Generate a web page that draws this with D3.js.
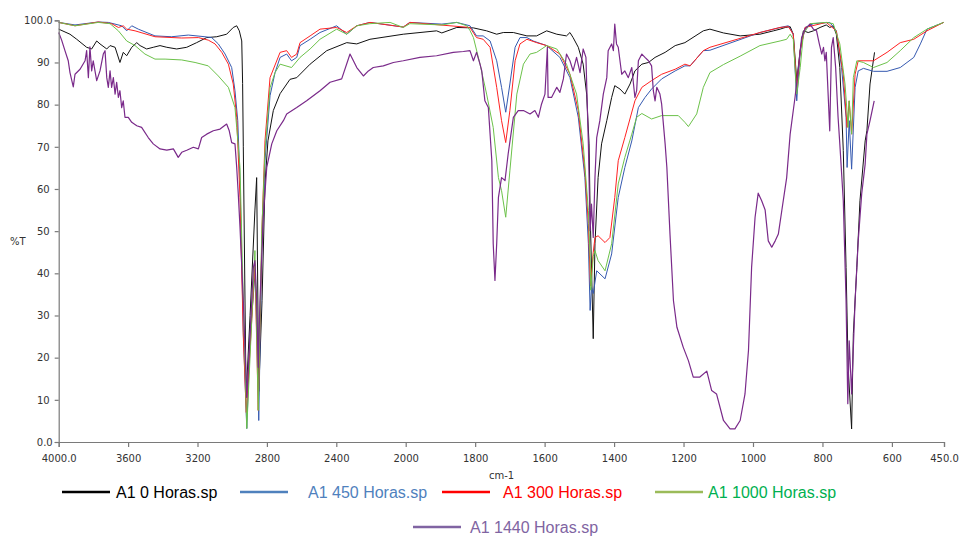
<!DOCTYPE html>
<html>
<head>
<meta charset="utf-8">
<script src="https://cdn.jsdelivr.net/npm/d3@7"></script>
<style>
  html, body { margin: 0; padding: 0; background: #fff; }
  svg { display: block; }
</style>
</head>
<body>
<svg id="chart" width="963" height="536"></svg>
<script>
// IR spectra, %T versus wavenumber (cm-1), samples A1 after ageing hours.
const seriesNames = ["A1 0 Horas.sp", "A1 450 Horas.sp", "A1 300 Horas.sp", "A1 1000 Horas.sp", "A1 1440 Horas.sp"];

const xTickValues = [4000, 3600, 3200, 2800, 2400, 2000, 1800, 1600, 1400, 1200, 1000, 800, 600, 450];
const xTickLabels = ["4000.0", "3600", "3200", "2800", "2400", "2000", "1800", "1600", "1400", "1200", "1000", "800", "600", "450.0"];
const yTickValues = [0, 10, 20, 30, 40, 50, 60, 70, 80, 90, 100];
const yTickLabels = ["0.0", "10", "20", "30", "40", "50", "60", "70", "80", "90", "100.0"];

// [wavenumber, %T]
const spec0h = [[4000,97.9],[3935,96.7],[3896,95.5],[3839,93.6],[3810,93.2],[3781,95.1],[3762,94.4],[3723,93.2],[3704,94.0],[3675,93.6],[3647,90.0],[3628,92.4],[3608,91.6],[3579,93.6],[3550,94.7],[3531,94.0],[3493,93.2],[3455,93.6],[3416,94.0],[3377,93.6],[3320,93.2],[3262,93.6],[3205,94.7],[3147,95.9],[3089,96.1],[3032,96.7],[2994,98.3],[2974,98.7],[2959,97.5],[2945,95.1],[2940,85],[2936,70],[2920,10.5],[2897,30],[2869,55],[2859,62.7],[2847,12],[2828,33.5],[2811,61.3],[2794,71.4],[2763,78.6],[2724,82.6],[2667,86.0],[2628,86.4],[2551,89.6],[2455,92.8],[2340,94.7],[2282,94.4],[2206,95.5],[2014,96.7],[1911,97.5],[1896,97.0],[1853,98.3],[1805,98.2],[1767,97.5],[1738,96.7],[1719,97.1],[1690,97.1],[1651,96.3],[1623,96.3],[1594,97.5],[1565,96.7],[1537,96.3],[1527,97.1],[1518,95.9],[1503,93.6],[1489,89.6],[1479,82.5],[1472,70.7],[1469,54.9],[1460,24.5],[1455,47.0],[1446,62.7],[1436,70.7],[1421,76.2],[1407,81.7],[1398,84.5],[1383,83.7],[1369,82.5],[1354,84.9],[1340,88.0],[1320,89.6],[1301,90.0],[1282,91.2],[1253,92.4],[1224,94.0],[1196,94.7],[1143,97.5],[1124,97.9],[1085,97.0],[1037,96.3],[980,96.7],[941,97.5],[922,97.9],[907,98.3],[893,98.5],[884,96.7],[874,85.7],[864,93],[855,97.5],[841,97.1],[826,97.5],[807,98.3],[789,98.9],[779,98.3],[769,98.7],[760,96.7],[750,88.8],[740,69.1],[732,41.4],[726,17.7],[716,3.1],[711,25.7],[701,41.4],[692,57.2],[677,71.4],[672,73.8],[663,84.9],[650,92.4]];

const spec450h = [[4000,99.5],[3906,98.9],[3772,99.6],[3714,99.5],[3637,98.7],[3608,97.5],[3579,98.7],[3541,97.9],[3445,96.3],[3349,96.1],[3253,96.5],[3157,96.1],[3118,95.9],[3080,94.4],[3041,92.0],[3003,88.8],[2984,83.3],[2968,76.2],[2955,62],[2936,26],[2916,3.2],[2897,25],[2867,40.6],[2852,20],[2847,5.1],[2830,45],[2811,66.7],[2782,82.1],[2753,87.6],[2724,91.2],[2686,92.0],[2658,90.4],[2628,91.2],[2609,94.0],[2551,95.5],[2494,97.1],[2398,98.7],[2340,96.7],[2282,98.7],[2206,99.5],[2014,98.4],[1988,99.5],[1896,99.1],[1853,99.5],[1815,98.7],[1796,96.3],[1777,96.3],[1757,95.1],[1738,90.4],[1724,84.1],[1712,78.2],[1700,84.9],[1685,93.6],[1671,95.9],[1651,95.9],[1633,95.1],[1594,94.0],[1556,91.2],[1527,86.4],[1503,77.0],[1484,62.7],[1474,47.0],[1469,31.2],[1465,36.7],[1460,35.2],[1450,40.6],[1426,38.7],[1407,44.6],[1388,58.0],[1369,65.1],[1349,71.4],[1330,79.3],[1311,81.7],[1292,83.7],[1263,86.1],[1224,88.0],[1196,89.2],[1181,89.2],[1143,92.8],[1124,92.9],[980,97.1],[922,98.3],[898,98.7],[884,96.7],[874,80.9],[864,92.8],[850,98.3],[826,99.2],[779,99.5],[760,97.5],[745,88.8],[732,77.0],[729,65.1],[723,76.2],[716,64.7],[706,84.1],[697,88.0],[682,88.6],[653,87.9],[614,87.9],[576,88.8],[537,91.2],[518,94.4],[499,97.9],[451,99.5]];

const spec300h = [[4000,99.5],[3906,98.7],[3772,99.6],[3695,99.2],[3656,98.3],[3628,98.7],[3608,97.9],[3560,97.5],[3445,96.1],[3291,95.8],[3195,95.9],[3138,95.3],[3099,94.4],[3060,92.4],[3022,89.6],[2994,84.9],[2974,77.0],[2955,58],[2936,25],[2919,7.0],[2897,22],[2869,42.3],[2850,7.5],[2828,51],[2811,71.4],[2782,86.4],[2724,92.4],[2686,92.8],[2658,91.2],[2628,92.0],[2609,94.7],[2551,96.3],[2494,97.9],[2398,98.3],[2340,97.1],[2282,98.7],[2206,99.5],[2014,98.4],[1988,99.5],[1815,98.3],[1796,95.9],[1777,95.5],[1757,93.6],[1738,84.1],[1724,76.2],[1712,71.0],[1700,78.6],[1685,90.4],[1671,94.4],[1651,95.5],[1623,94.7],[1594,94.0],[1556,92.0],[1527,87.2],[1503,78.6],[1484,64.3],[1474,51.8],[1468,37],[1460,45],[1455,48.5],[1446,48.9],[1426,47.3],[1412,48.5],[1398,58.0],[1388,66.7],[1369,72.2],[1340,80.9],[1320,84.1],[1292,85.7],[1263,87.2],[1224,88.4],[1196,89.6],[1181,89.2],[1143,92.8],[1124,93.6],[980,97.1],[922,98.3],[898,98.5],[884,96.7],[874,84.1],[864,92.8],[850,98.3],[789,99.5],[760,97.5],[740,87.2],[729,74.6],[723,80.9],[716,73.0],[706,87.2],[697,90.4],[653,90.4],[614,92.4],[576,94.7],[537,95.5],[499,97.5],[451,99.5]];

const spec1000h = [[4000,99.5],[3906,98.7],[3772,99.5],[3704,99.2],[3656,97.5],[3608,95.1],[3560,94.0],[3503,92.0],[3445,90.8],[3387,90.8],[3291,90.6],[3214,90.0],[3138,89.2],[3080,86.8],[3022,84.1],[2984,79.3],[2974,74.6],[2955,65.1],[2936,33.5],[2916,3.2],[2869,45.4],[2850,7.5],[2830,49.4],[2811,69.0],[2782,84.0],[2753,87.6],[2724,89.6],[2658,88.8],[2609,91.2],[2551,93.2],[2494,95.5],[2398,97.9],[2340,96.7],[2282,98.7],[2206,99.2],[2090,99.5],[2014,98.3],[1988,99.2],[1896,98.9],[1853,99.5],[1824,98.7],[1815,97.6],[1805,95.9],[1786,89.6],[1767,82.5],[1748,74.6],[1733,62.7],[1724,59.6],[1712,53.3],[1700,64.3],[1680,82.5],[1661,89.6],[1642,92.0],[1623,92.4],[1594,94.0],[1565,93.2],[1537,89.6],[1508,82.5],[1489,70.7],[1474,54.9],[1469,43.8],[1467,36],[1460,44],[1455,45.4],[1446,43],[1426,40.6],[1407,47.0],[1388,61.2],[1369,67.5],[1349,73.0],[1335,77.0],[1320,77.9],[1292,76.6],[1263,77.4],[1215,77.4],[1196,75.8],[1186,74.8],[1162,77.8],[1143,84.1],[1124,87.6],[1085,89.5],[1037,91.5],[980,94.0],[922,95.1],[903,95.5],[893,96.7],[884,95.5],[874,82.5],[864,88.8],[855,96.7],[836,99.2],[789,99.5],[769,99.2],[750,94.4],[735,84.9],[726,74.6],[723,80.9],[716,73.0],[711,86.4],[701,90.4],[682,90.0],[653,88.8],[614,90.0],[576,92.8],[537,95.9],[499,97.9],[451,99.5]];

const spec1440h = [[4000,97.1],[3983,95.3],[3964,92.8],[3945,90.4],[3935,87.6],[3916,84.2],[3906,87.2],[3877,88.4],[3848,90.4],[3839,92.8],[3829,86.4],[3820,93.7],[3810,88.0],[3801,90.4],[3781,85.7],[3762,88.0],[3743,92.0],[3733,92.8],[3723,86.4],[3714,84.1],[3704,88.0],[3695,84.1],[3685,86.4],[3675,82.5],[3666,85.3],[3656,81.7],[3647,83.3],[3637,79.3],[3628,80.9],[3618,77.0],[3599,77.0],[3579,75.8],[3550,75.0],[3522,74.6],[3484,72.2],[3455,70.7],[3416,69.5],[3377,69.2],[3339,69.5],[3311,67.5],[3291,68.7],[3262,69.2],[3224,69.9],[3195,69.5],[3176,72.2],[3147,73.0],[3109,73.8],[3070,74.2],[3032,75.4],[3017,73.8],[3003,71.0],[2984,70.7],[2974,65.1],[2965,58.8],[2955,50.9],[2936,33.5],[2916,10.6],[2897,25.7],[2878,41.4],[2869,43.0],[2859,33.5],[2850,17.7],[2840,33.5],[2821,53.3],[2801,65.1],[2772,70.7],[2743,73.8],[2705,76.2],[2686,77.8],[2628,79.3],[2571,80.9],[2494,83.3],[2436,85.3],[2369,86.1],[2321,92.0],[2282,88.8],[2244,86.8],[2215,88.0],[2187,88.8],[2129,89.2],[2071,90.0],[2014,90.4],[1959,91.2],[1911,91.6],[1863,92.4],[1834,92.6],[1815,92.8],[1805,90.4],[1796,92.4],[1786,89.6],[1781,88.0],[1772,80.9],[1762,79.3],[1752,66.7],[1748,47.0],[1743,38.3],[1738,47.0],[1733,58.0],[1724,62.7],[1714,62.0],[1705,68.3],[1690,77.0],[1676,78.6],[1661,78.6],[1642,77.8],[1628,78.6],[1618,77.0],[1609,80.1],[1599,82.5],[1592,93.6],[1590,81.7],[1580,81.7],[1565,84.1],[1556,82.9],[1546,86.1],[1537,92.0],[1527,90.4],[1518,88.0],[1508,91.2],[1498,87.6],[1489,93.2],[1481,91.2],[1474,70.7],[1469,50.1],[1465,56.4],[1460,48.5],[1455,62.7],[1450,72.2],[1441,76.2],[1431,82.5],[1421,86.4],[1417,92.8],[1407,94.4],[1402,92.8],[1398,99.1],[1393,94.4],[1388,93.6],[1378,87.2],[1369,88.0],[1359,86.4],[1349,88.8],[1340,81.7],[1335,83.3],[1330,90.4],[1320,92.0],[1311,91.2],[1301,90.4],[1292,89.2],[1287,83.3],[1282,80.9],[1277,84.1],[1268,82.5],[1263,80.1],[1253,70.7],[1248,65.1],[1239,49.3],[1229,33.5],[1219,27.2],[1201,22.5],[1186,19.3],[1172,15.4],[1153,15.4],[1133,16.8],[1119,12.2],[1105,11.4],[1085,5.1],[1066,3.1],[1052,3.1],[1037,5.1],[1023,11.4],[1013,21.7],[1004,41.4],[994,53.3],[985,59.0],[975,57.2],[965,55.0],[956,47.7],[946,46.2],[936,47.7],[927,49.3],[917,54.9],[903,62.7],[893,73.0],[884,78.6],[879,81.7],[869,88.8],[860,95.9],[850,97.9],[836,99.1],[826,97.9],[817,97.5],[809,94.4],[802,92.0],[797,93.6],[793,90.4],[789,92.4],[779,73.8],[774,93.6],[769,95.9],[762,88.8],[755,77.0],[750,70.7],[740,57.2],[732,33.5],[727,9.1],[723,24.0],[716,11.4],[706,33.5],[697,47.7],[687,58.8],[677,65.9],[672,73.0],[663,76.2],[651,80.9]];

const spectra = [spec0h, spec450h, spec300h, spec1000h, spec1440h];
const lineColors = ["#111111", "#3559b0", "#ff2222", "#6cc24a", "#7a2a8a"];
const legendLineColors = ["#000000", "#4f81bd", "#ff0000", "#9bbb59", "#8064a2"];
const legendTextColors = ["#000000", "#4f81bd", "#ff0000", "#00b050", "#8064a2"];

const svg = d3.select("#chart");

// wavenumber axis is expanded 2x below 2000 cm-1
const x = d3.scaleLinear().domain([4000, 2000, 450]).range([58.7, 405.7, 944]);
const y = d3.scaleLinear().domain([0, 100]).range([442, 20.3]);

const axisColor = "#7a7a7a";
const tickFont = "'DejaVu Sans', Verdana, sans-serif";

// spectra
const line = d3.line().x(d => x(d[0])).y(d => y(d[1]));
svg.append("g")
  .selectAll("path")
  .data(spectra)
  .join("path")
  .attr("d", line)
  .attr("fill", "none")
  .attr("stroke", (d, i) => lineColors[i])
  .attr("stroke-width", (d, i) => i === 4 ? 1.2 : 1)
  .attr("stroke-linejoin", "round");

// x axis
const xAxis = d3.axisBottom(x)
  .tickValues(xTickValues)
  .tickFormat((d, i) => xTickLabels[i])
  .tickSize(5)
  .tickPadding(8);
const gx = svg.append("g").attr("transform", `translate(0,${y(0)})`).call(xAxis);
gx.select(".domain").attr("stroke", axisColor).attr("stroke-width", 1.2);
gx.selectAll(".tick line").attr("stroke", axisColor).attr("stroke-width", 1.2);
gx.selectAll(".tick text").attr("fill", "#333").style("font-family", tickFont).style("font-size", "10px");

// y axis
const yAxis = d3.axisLeft(y)
  .tickValues(yTickValues)
  .tickFormat((d, i) => yTickLabels[i])
  .tickSize(4)
  .tickPadding(5);
const gy = svg.append("g").attr("transform", `translate(${x(4000)},0)`).call(yAxis);
gy.select(".domain").attr("stroke", axisColor).attr("stroke-width", 1.2);
gy.selectAll(".tick line").attr("stroke", axisColor).attr("stroke-width", 1.2);
gy.selectAll(".tick text").attr("fill", "#333").style("font-family", tickFont).style("font-size", "10px")
  .attr("dx", (d, i) => yTickLabels[i].includes(".") ? 3 : 0);

// axis titles
svg.append("text").attr("x", 10).attr("y", 245)
  .style("font-family", tickFont).style("font-size", "10px").attr("fill", "#333").text("%T");
svg.append("text").attr("x", 489).attr("y", 479)
  .style("font-family", tickFont).style("font-size", "10px").attr("fill", "#333").text("cm-1");

// legend
const legendPos = [
  {lx: 62, ly: 492, tx: 116, ty: 498},
  {lx: 240, ly: 492, tx: 308, ty: 498},
  {lx: 442, ly: 492, tx: 503, ty: 498},
  {lx: 655, ly: 492, tx: 708, ty: 498},
  {lx: 413, ly: 527, tx: 470, ty: 533}
];
const legend = svg.append("g");
seriesNames.forEach((name, i) => {
  const p = legendPos[i];
  legend.append("line")
    .attr("x1", p.lx).attr("x2", p.lx + 48)
    .attr("y1", p.ly).attr("y2", p.ly)
    .attr("stroke", legendLineColors[i]).attr("stroke-width", 2.5);
  legend.append("text")
    .attr("x", p.tx).attr("y", p.ty)
    .style("font-family", "'Liberation Sans', Arial, sans-serif")
    .style("font-size", "16px")
    .attr("fill", legendTextColors[i])
    .text(name);
});
</script>
</body>
</html>
